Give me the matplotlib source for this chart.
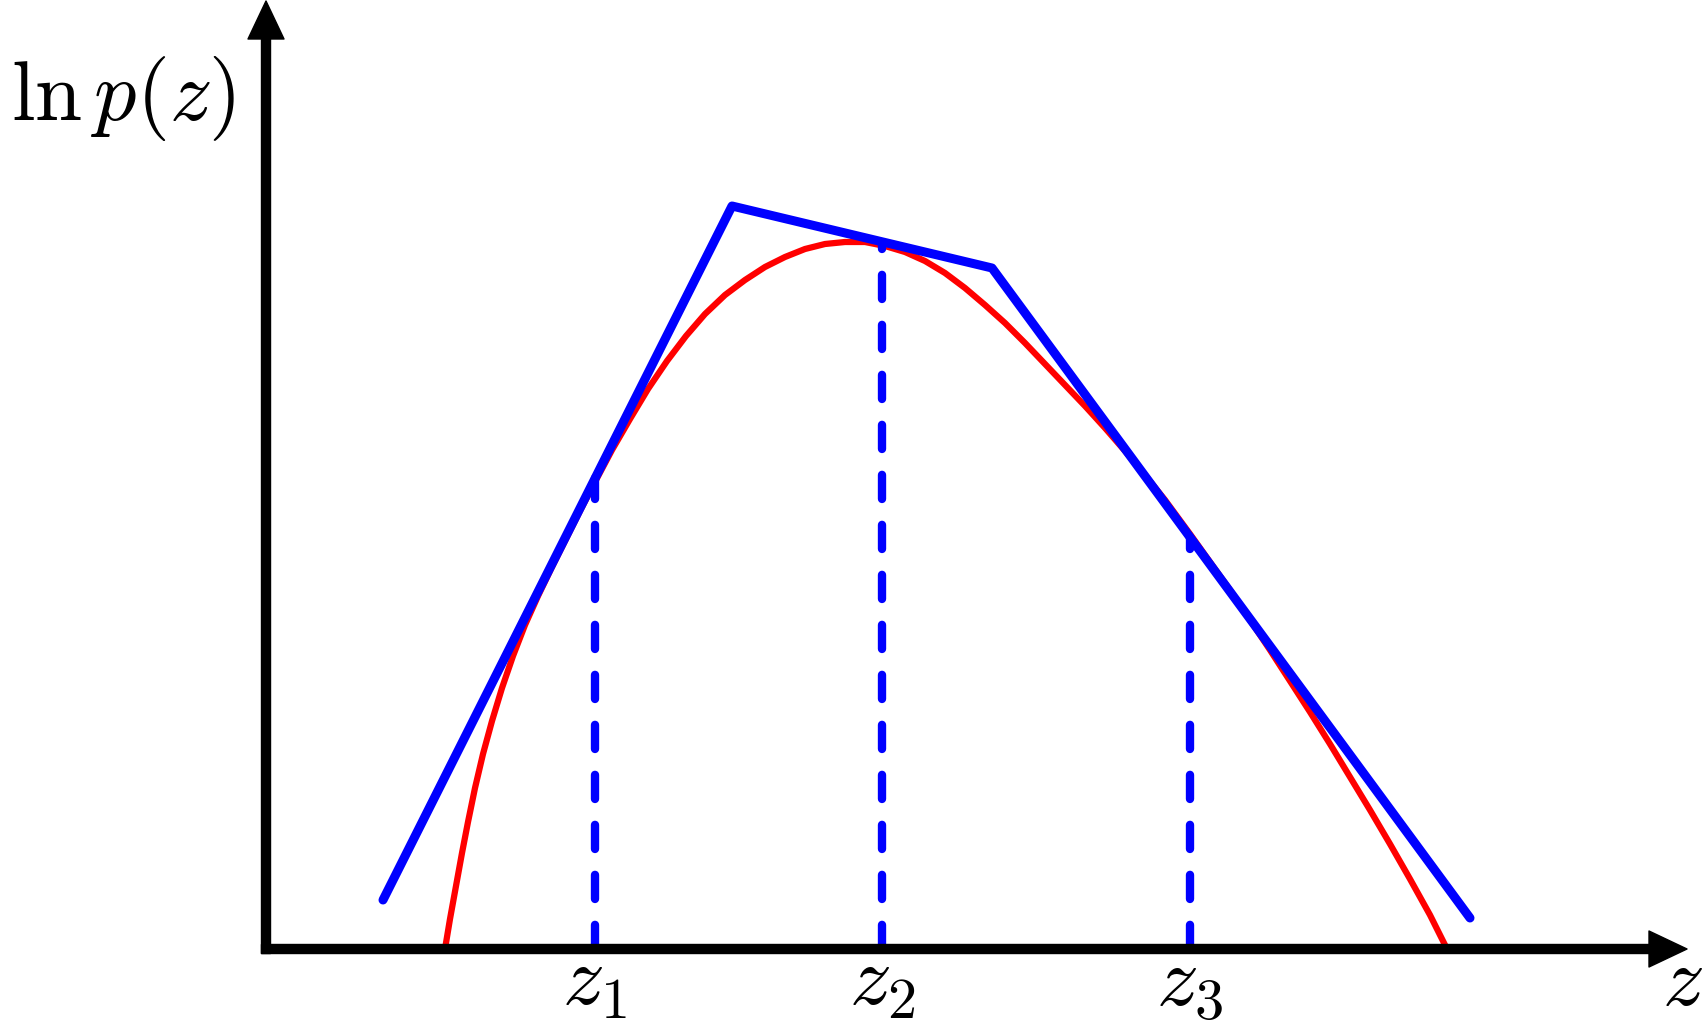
import numpy as np
import matplotlib
matplotlib.use("Agg")
import matplotlib.pyplot as plt

# fonte tipo LaTeX
plt.rcParams['mathtext.fontset'] = 'cm'

### DATI

# curva rossa: ln p(z)
red_z = [1.79, 1.84, 1.90, 1.96, 2.02, 2.09, 2.17, 2.26, 2.36, 2.47, 2.59, 2.72,
         2.86, 3.00, 3.14, 3.29, 3.46, 3.64, 3.82, 4.01, 4.20, 4.39, 4.59, 4.79,
         4.99, 5.19, 5.39, 5.59, 5.79, 5.99, 6.19, 6.39, 6.59, 6.79, 6.99, 7.19,
         7.39, 7.59, 7.79, 7.99, 8.19, 8.39, 8.59, 8.79, 8.99, 9.24, 9.44, 9.64,
         9.84, 10.04, 10.24, 10.44, 10.64, 10.84, 11.04, 11.24, 11.44, 11.64, 11.81]
red_lnp = [0.00, 0.30, 0.63, 0.96, 1.27, 1.61, 1.95, 2.28, 2.61, 2.93, 3.24, 3.53,
           3.82, 4.10, 4.38, 4.67, 4.99, 5.30, 5.60, 5.88, 6.13, 6.35, 6.54, 6.69,
           6.82, 6.92, 7.00, 7.05, 7.07, 7.07, 7.03, 6.97, 6.88, 6.76, 6.61, 6.44,
           6.26, 6.06, 5.85, 5.64, 5.43, 5.21, 4.98, 4.74, 4.49, 4.15, 3.87, 3.59,
           3.29, 2.99, 2.68, 2.37, 2.05, 1.72, 1.39, 1.05, 0.70, 0.34, 0.00]

# inviluppo a tratti (blu)
blue_z = [1.17, 4.66, 7.26, 12.04]
blue_lnp = [0.49, 7.43, 6.81, 0.31]

# punti di tangenza
z_points = [3.29, 6.16, 9.24]
z_top = [4.71, 7.05, 4.12]
z_labels = ['$z_1$', '$z_2$', '$z_3$']

x_max = 14.21
y_max = 9.48

### GRAFICO
fig = plt.figure(figsize=(17.08, 10.33), dpi=100)
ax = fig.add_axes([0, 0, 1, 1])
ax.set_xlim(-2.66, 14.42)
ax.set_ylim(-0.84, 9.49)
ax.axis('off')

ax.plot(red_z, red_lnp, color='red', linewidth=4.5, solid_joinstyle='round', zorder=2)
ax.plot(blue_z, blue_lnp, color='blue', linewidth=6.5, solid_capstyle='round',
        solid_joinstyle='round', zorder=3)

for zz, top in zip(z_points, z_top):
    ax.plot([zz, zz], [0, top], color='blue', linewidth=6.0, dashes=(2.9, 3.1),
            dash_capstyle='round', zorder=4)

# assi con frecce
ax.arrow(-0.045, 0, x_max + 0.045, 0, width=0.09, head_width=0.36, head_length=0.38,
         length_includes_head=True, fc='black', ec='black', joinstyle='round', zorder=5)
ax.arrow(0, -0.045, 0, y_max + 0.045, width=0.09, head_width=0.36, head_length=0.38,
         length_includes_head=True, fc='black', ec='black', joinstyle='round', zorder=5)

# etichette
for zz, lab in zip(z_points, z_labels):
    ax.text(zz, 0.08, lab, fontsize=60, ha='center', va='top')
ax.text(14.16, 0.08, '$z$', fontsize=60, ha='center', va='top')
ax.text(-2.55, 8.29, r'$\ln p(z)$', fontsize=61, ha='left', va='baseline')

fig.savefig('out.png', dpi=100)
